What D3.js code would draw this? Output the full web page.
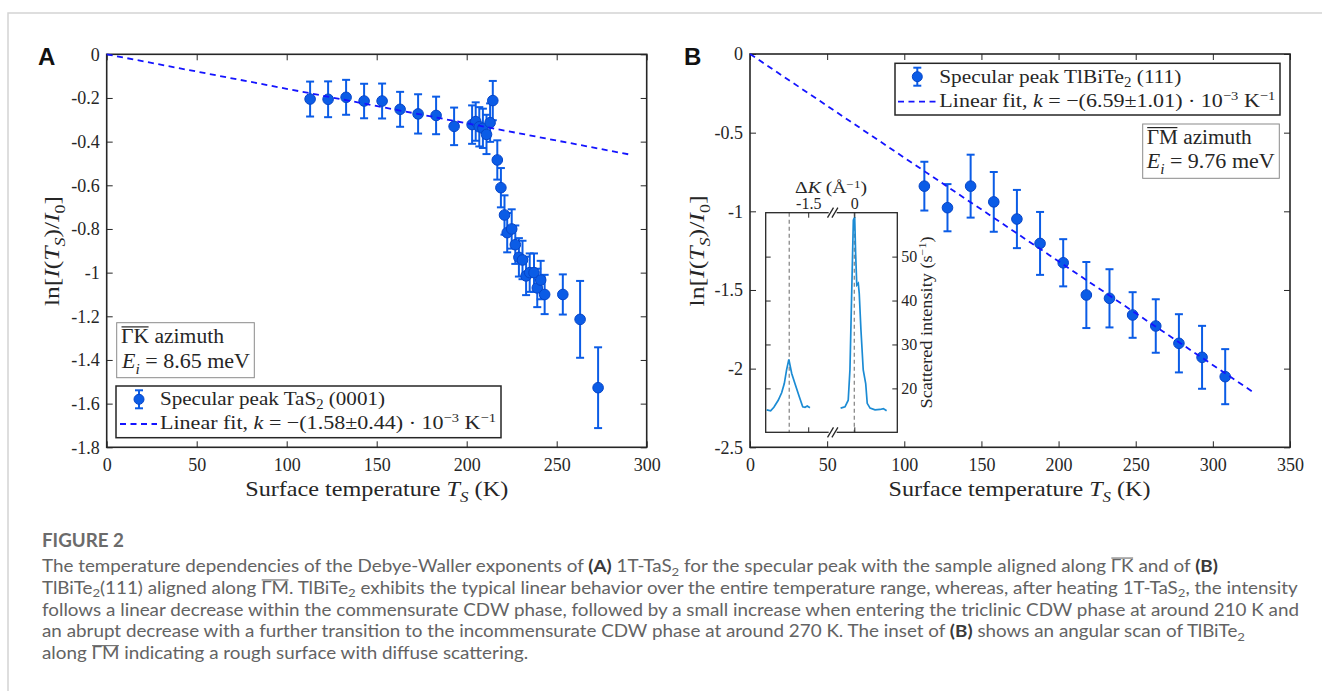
<!DOCTYPE html>
<html><head><meta charset="utf-8">
<script src="https://cdn.jsdelivr.net/npm/d3@7"></script>
<style>
body{margin:0;background:#fff;}
svg text{font-family:"Liberation Serif",serif;fill:#262626;}
</style></head><body>
<svg id="c" width="1322" height="691"></svg>
<script>
// ---------------- DATA ----------------
// Panel A: 1T-TaS2 specular peak
const tempA = [113,123,133,143,153,163,173,183,193,203,205,207,209,211,213,214.5,217,219,221,222.5,225,227,229,231,233,235,237.4,239.2,241.1,243.3,253.4,263,273];
const lnA   = [-0.205,-0.206,-0.197,-0.214,-0.214,-0.252,-0.273,-0.280,-0.330,-0.322,-0.308,-0.332,-0.339,-0.367,-0.313,-0.212,-0.484,-0.611,-0.736,-0.817,-0.800,-0.872,-0.930,-0.942,-1.015,-1.000,-1.000,-1.070,-1.034,-1.100,-1.100,-1.214,-1.527];
const errA  = [0.080,0.082,0.080,0.079,0.080,0.080,0.090,0.086,0.086,0.088,0.088,0.090,0.090,0.090,0.088,0.090,0.090,0.090,0.090,0.090,0.090,0.088,0.088,0.088,0.088,0.088,0.088,0.088,0.088,0.090,0.092,0.176,0.185];
const fitA_k = -1.58e-3;           // K^-1
const fitA_T = [0, 290];

// Panel B: TlBiTe2 specular peak
const tempB = [113,128,143,158,173,188,203,218,233,248,263,278,293,308];
const lnB   = [-0.840,-0.977,-0.840,-0.940,-1.049,-1.204,-1.327,-1.532,-1.553,-1.659,-1.729,-1.839,-1.928,-2.051];
const errB  = [0.155,0.150,0.200,0.190,0.185,0.200,0.150,0.210,0.185,0.145,0.170,0.185,0.200,0.175];
const fitB_k = -6.59e-3;
const fitB_T = [0, 327];

// Inset (angular scan)
const insetLeftK  = [-1.719,-1.698,-1.681,-1.658,-1.640,-1.626,-1.614,-1.602,-1.587,-1.570,-1.547,-1.529,-1.517,-1.505,-1.491];
const insetLeftI  = [15.1,14.9,15.7,17.3,19.0,21.1,24.2,26.6,23.4,21.1,18.1,15.8,15.7,16.0,15.6];
const insetRightK = [-0.072,-0.049,-0.032,-0.023,-0.017,-0.011,-0.005,0.002,0.007,0.013,0.021,0.026,0.035,0.047,0.060,0.068,0.083,0.109,0.135,0.153,0.170];
const insetRightI = [15.5,15.8,17.3,24.2,35.5,46.9,58.3,59.0,50.7,43.5,43.9,41.6,33.3,24.2,21.1,16.6,15.5,15.1,15.2,15.4,14.9];
const insetPeaks  = [-1.6, 0];

// Ticks
const xTicksA = [0,50,100,150,200,250,300];
const yTicksA = [0,-0.2,-0.4,-0.6,-0.8,-1,-1.2,-1.4,-1.6,-1.8];
const xTicksB = [0,50,100,150,200,250,300,350];
const yTicksB = [0,-0.5,-1,-1.5,-2,-2.5];
const insetKTicksLeft = [-1.5], insetKTicksRight = [0];
const insetITicks = [20,30,40,50];

// ---------------- DRAW ----------------
const svg = d3.select('#c');
const INK = '#262626', BLUE = '#0b5ce6', FITC = '#1414ff';

// outer card border
svg.append('path').attr('d','M8,691V13H1322').attr('fill','none').attr('stroke','#d4d4d4').attr('stroke-width',1.5);

function rich(g, x, y, segs, size, opts={}) {
  const t = g.append('text').attr('x',x).attr('y',y).style('font-size',size+'px');
  if (opts.anchor) t.attr('text-anchor',opts.anchor);
  if (opts.family) t.style('font-family',opts.family);
  if (opts.fill) t.style('fill',opts.fill);
  let shift = 0, idx = 0; const ovs = [];
  segs.forEach(s => {
    const target = s.sub ? size*(opts.subShift||0.26) : s.sup ? -size*0.36 : 0;
    const ts = t.append('tspan').text(s.t).attr('dy', target-shift);
    shift = target;
    if (s.sub) ts.style('font-size',(size*0.7)+'px');
    if (s.sup) ts.style('font-size',(size*0.66)+'px');
    if (s.it) ts.style('font-style','italic');
    if (s.b) ts.style('font-weight','700').style('fill',opts.boldFill||null);
    if (s.ov) ovs.push([idx, idx+s.t.length-1]);
    idx += s.t.length;
  });
  if (opts.len) t.attr('textLength',opts.len).attr('lengthAdjust','spacingAndGlyphs');
  if (opts.rot) t.attr('transform',`rotate(${opts.rot},${x},${y})`);
  ovs.forEach(([a,b]) => {
    const n = t.node();
    const p0 = n.getStartPositionOfChar(a), p1 = n.getEndPositionOfChar(b);
    g.append('line').attr('x1',p0.x+0.5).attr('x2',p1.x-0.5)
      .attr('y1',y-size*(opts.ovH||0.8)).attr('y2',y-size*(opts.ovH||0.8))
      .attr('stroke',opts.fill||INK).attr('stroke-width',size*0.06);
  });
  return t;
}

function axesFrame(g, x, y, xt, yt) {
  const [xl,xr] = x.range(), [yb,yt0] = y.range();
  const style = sel => { sel.select('.domain').remove();
    sel.attr('font-size',null).attr('font-family',null);
    sel.selectAll('line').attr('stroke',INK).attr('stroke-width',1);
    sel.selectAll('text').style('font-size','18px').style('font-family','"Liberation Serif",serif').attr('fill',INK); };
  g.append('g').attr('transform',`translate(0,${yb})`)
    .call(d3.axisBottom(x).tickValues(xt).tickSize(-6).tickPadding(11).tickFormat(d=>String(d))).call(style);
  g.append('g').attr('transform',`translate(0,${yt0})`)
    .call(d3.axisTop(x).tickValues(xt).tickSize(-6).tickFormat('')).call(style);
  g.append('g').attr('transform',`translate(${xl},0)`)
    .call(d3.axisLeft(y).tickValues(yt).tickSize(-6).tickPadding(7).tickFormat(d=>String(d))).call(style);
  g.append('g').attr('transform',`translate(${xr},0)`)
    .call(d3.axisRight(y).tickValues(yt).tickSize(-6).tickFormat('')).call(style);
  g.append('rect').attr('x',xl).attr('y',yt0).attr('width',xr-xl).attr('height',yb-yt0)
    .attr('fill','none').attr('stroke',INK).attr('stroke-width',1.6);
}

function errPoints(g, x, y, T, V, E) {
  const pts = g.append('g');
  T.forEach((t,i) => {
    const cx = x(t), yt = y(V[i]+E[i]), yb = y(V[i]-E[i]);
    pts.append('line').attr('x1',cx).attr('x2',cx).attr('y1',yt).attr('y2',yb).attr('stroke',BLUE).attr('stroke-width',2);
    [yt,yb].forEach(yy => pts.append('line').attr('x1',cx-4).attr('x2',cx+4).attr('y1',yy).attr('y2',yy).attr('stroke',BLUE).attr('stroke-width',2));
  });
  T.forEach((t,i) => pts.append('circle').attr('cx',x(t)).attr('cy',y(V[i])).attr('r',5.3)
      .attr('fill',BLUE).attr('stroke','#0645c8').attr('stroke-width',1));
}

function fitLine(g, x, y, Ts, k) {
  g.append('path').datum(Ts).attr('d', d3.line().x(d=>x(d)).y(d=>y(k*d)))
    .attr('fill','none').attr('stroke',FITC).attr('stroke-width',1.8).attr('stroke-dasharray','6,4.5');
}

function legendMarker(g, cx, cy) {
  g.append('line').attr('x1',cx).attr('x2',cx).attr('y1',cy-9).attr('y2',cy+9).attr('stroke',BLUE).attr('stroke-width',2);
  [cy-9,cy+9].forEach(yy=>g.append('line').attr('x1',cx-4).attr('x2',cx+4).attr('y1',yy).attr('y2',yy).attr('stroke',BLUE).attr('stroke-width',2));
  g.append('circle').attr('cx',cx).attr('cy',cy).attr('r',5).attr('fill',BLUE).attr('stroke','#0645c8');
}

// ---------- Panel A ----------
const gA = svg.append('g');
const xA = d3.scaleLinear().domain([0,300]).range([106.7,646.7]);
const yA = d3.scaleLinear().domain([-1.8,0]).range([447.3,54.3]);
axesFrame(gA, xA, yA, xTicksA, yTicksA);
errPoints(gA, xA, yA, tempA, lnA, errA);
fitLine(gA, xA, yA, fitA_T, fitA_k);
rich(gA, 376.7, 496, [{t:'Surface temperature '},{t:'T',it:true},{t:'S',it:true,sub:true},{t:' (K)'}], 22, {anchor:'middle', len:263});
rich(gA, 59, 251, [{t:'ln['},{t:'I',it:true},{t:'('},{t:'T',it:true},{t:'S',it:true,sub:true},{t:')/'},{t:'I',it:true},{t:'0',sub:true},{t:']'}], 22, {anchor:'middle', len:110, rot:-90});
// azimuth box
gA.append('rect').attr('x',116.7).attr('y',322.7).attr('width',137.6).attr('height',55).attr('fill','#fff').attr('stroke','#8a8a8a').attr('stroke-width',1);
rich(gA, 121, 343.3, [{t:'ΓK',ov:true},{t:' azimuth'}], 20, {len:103, ovH:0.82});
rich(gA, 122, 368.3, [{t:'E',it:true},{t:'i',it:true,sub:true},{t:' = 8.65 meV'}], 20, {len:128});
// legend
gA.append('rect').attr('x',116).attr('y',386).attr('width',385).attr('height',51.7).attr('fill','#fff').attr('stroke',INK).attr('stroke-width',1.5);
legendMarker(gA, 139, 399.3);
rich(gA, 160, 405, [{t:'Specular peak TaS'},{t:'2',sub:true},{t:' (0001)'}], 19.5, {len:225, subShift:0.2});
gA.append('line').attr('x1',120).attr('x2',157).attr('y1',424).attr('y2',424).attr('stroke',FITC).attr('stroke-width',1.8).attr('stroke-dasharray','6,4.5');
rich(gA, 160, 429, [{t:'Linear fit, '},{t:'k',it:true},{t:' = −(1.58±0.44) · 10'},{t:'−3',sup:true},{t:' K'},{t:'−1',sup:true}], 19.5, {len:336});
svg.append('text').attr('x',38).attr('y',65).text('A').style('font-family','"Liberation Sans",Arial,sans-serif').style('font-weight','700').style('font-size','24px').style('fill','#111');

// ---------- Panel B ----------
const gB = svg.append('g');
const xB = d3.scaleLinear().domain([0,350]).range([750,1290]);
const yB = d3.scaleLinear().domain([-2.5,0]).range([447.3,54]);
axesFrame(gB, xB, yB, xTicksB, yTicksB);
errPoints(gB, xB, yB, tempB, lnB, errB);
fitLine(gB, xB, yB, fitB_T, fitB_k);
rich(gB, 1019.5, 496, [{t:'Surface temperature '},{t:'T',it:true},{t:'S',it:true,sub:true},{t:' (K)'}], 22, {anchor:'middle', len:262});
rich(gB, 704, 251, [{t:'ln['},{t:'I',it:true},{t:'('},{t:'T',it:true},{t:'S',it:true,sub:true},{t:')/'},{t:'I',it:true},{t:'0',sub:true},{t:']'}], 22, {anchor:'middle', len:111, rot:-90});
gB.append('rect').attr('x',895).attr('y',63.3).attr('width',385).attr('height',51.7).attr('fill','#fff').attr('stroke',INK).attr('stroke-width',1.5);
legendMarker(gB, 917.3, 76.7);
rich(gB, 939.3, 82.7, [{t:'Specular peak TlBiTe'},{t:'2',sub:true},{t:' (111)'}], 19.5, {len:242, subShift:0.2});
gB.append('line').attr('x1',898).attr('x2',936.7).attr('y1',101.7).attr('y2',101.7).attr('stroke',FITC).attr('stroke-width',1.8).attr('stroke-dasharray','6,4.5');
rich(gB, 939.3, 107, [{t:'Linear fit, '},{t:'k',it:true},{t:' = −(6.59±1.01) · 10'},{t:'−3',sup:true},{t:' K'},{t:'−1',sup:true}], 19.5, {len:336});
gB.append('rect').attr('x',1142.7).attr('y',124).attr('width',136.6).attr('height',54.3).attr('fill','#fff').attr('stroke','#8a8a8a').attr('stroke-width',1);
rich(gB, 1146.7, 144, [{t:'ΓM',ov:true},{t:' azimuth'}], 20, {len:105, ovH:0.82});
rich(gB, 1146.7, 168.3, [{t:'E',it:true},{t:'i',it:true,sub:true},{t:' = 9.76 meV'}], 20, {len:128});
svg.append('text').attr('x',684).attr('y',65).text('B').style('font-family','"Liberation Sans",Arial,sans-serif').style('font-weight','700').style('font-size','24px').style('fill','#111');

// ---------- Inset ----------
const gI = svg.append('g');
const iL = 765.7, iR = 897.3, iT = 212.7, iBt = 432.3, iBreak = 832.7;
const xIL = d3.scaleLinear().domain([-1.724,-1.371]).range([iL,iBreak]);
const xIR = d3.scaleLinear().domain([-0.1137,0.2263]).range([iBreak,iR]);
const yI = d3.scaleLinear().domain([10,60]).range([iBt,iT]);
gI.append('rect').attr('x',iL).attr('y',iT).attr('width',iR-iL).attr('height',iBt-iT).attr('fill','#fff');
[[xIL,insetPeaks[0]],[xIR,insetPeaks[1]]].forEach(([sc,v]) =>
  gI.append('line').attr('x1',sc(v)).attr('x2',sc(v)).attr('y1',iT).attr('y2',iBt).attr('stroke','#8a8a8a').attr('stroke-width',1.3).attr('stroke-dasharray','4,3'));
const lineL = d3.line().x((d,i)=>xIL(insetLeftK[i])).y(d=>yI(d));
const lineR = d3.line().x((d,i)=>xIR(insetRightK[i])).y(d=>yI(d));
gI.append('path').datum(insetLeftI).attr('d',lineL).attr('fill','none').attr('stroke','#1b8bd4').attr('stroke-width',1.7);
gI.append('path').datum(insetRightI).attr('d',lineR).attr('fill','none').attr('stroke','#1b8bd4').attr('stroke-width',1.7);
const st = sel => { sel.select('.domain').remove(); sel.attr('font-size',null).attr('font-family',null);
  sel.selectAll('line').attr('stroke',INK); sel.selectAll('text').style('font-size','16px').style('font-family','"Liberation Serif",serif').attr('fill',INK); };
gI.append('g').attr('transform',`translate(${iR},0)`).call(d3.axisRight(yI).tickValues(insetITicks).tickSize(-5).tickPadding(4)).call(st);
gI.append('g').attr('transform',`translate(${iL},0)`).call(d3.axisLeft(yI).tickValues(insetITicks).tickSize(-5).tickFormat('')).call(st);
gI.append('g').attr('transform',`translate(0,${iT})`).call(d3.axisTop(xIL).tickValues(insetKTicksLeft).tickSize(-5).tickPadding(4).tickFormat(d=>String(d))).call(st);
gI.append('g').attr('transform',`translate(0,${iT})`).call(d3.axisTop(xIR).tickValues(insetKTicksRight).tickSize(-5).tickPadding(4).tickFormat(d=>String(d))).call(st);
gI.append('g').attr('transform',`translate(0,${iBt})`).call(d3.axisBottom(xIL).tickValues(insetKTicksLeft).tickSize(-5).tickFormat('')).call(st);
gI.append('g').attr('transform',`translate(0,${iBt})`).call(d3.axisBottom(xIR).tickValues(insetKTicksRight).tickSize(-5).tickFormat('')).call(st);
gI.append('rect').attr('x',iL).attr('y',iT).attr('width',iR-iL).attr('height',iBt-iT).attr('fill','none').attr('stroke',INK).attr('stroke-width',1.3);
[iT,iBt].forEach(yy => {
  gI.append('rect').attr('x',iBreak-4).attr('y',yy-2).attr('width',8).attr('height',4).attr('fill','#fff');
  [-2.2,2.2].forEach(o => gI.append('line').attr('x1',iBreak+o-3).attr('x2',iBreak+o+3).attr('y1',yy+5).attr('y2',yy-5).attr('stroke',INK).attr('stroke-width',1.3));
});
rich(gI, 831, 193.3, [{t:'Δ'},{t:'K',it:true},{t:' (Å'},{t:'−1',sup:true},{t:')'}], 16, {anchor:'middle', len:72});
rich(gI, 931.5, 322.5, [{t:'Scattered intensity (s'},{t:'−1',sup:true},{t:')'}], 16, {anchor:'middle', len:172, rot:-90});

// ---------- Caption ----------
const gC = svg.append('g');
const CAP = 17.5;
const capOpts = {family:'Lato,"Open Sans",sans-serif', fill:'#636363', boldFill:'#3a3a3a', subShift:0.22, ovH:0.78};
gC.append('text').attr('x',42).attr('y',546.7).text('FIGURE 2').style('font-family','Lato,sans-serif').style('font-weight','700').style('font-size','19px').style('fill','#6b6b6b').attr('textLength',82).attr('lengthAdjust','spacingAndGlyphs');
const capLines = [
  {y:571.7, segs:[{t:'The temperature dependencies of the Debye-Waller exponents of '},{t:'(A)',b:true},{t:' 1T-TaS'},{t:'2',sub:true},{t:' for the specular peak with the sample aligned along '},{t:'ΓK',ov:true},{t:' and of '},{t:'(B)',b:true}]},
  {y:593.6, segs:[{t:'TlBiTe'},{t:'2',sub:true},{t:'(111) aligned along '},{t:'ΓM',ov:true},{t:'. TlBiTe'},{t:'2',sub:true},{t:' exhibits the typical linear behavior over the entire temperature range, whereas, after heating 1T-TaS'},{t:'2',sub:true},{t:', the intensity'}]},
  {y:615.5, segs:[{t:'follows a linear decrease within the commensurate CDW phase, followed by a small increase when entering the triclinic CDW phase at around 210 K and'}]},
  {y:637.4, segs:[{t:'an abrupt decrease with a further transition to the incommensurate CDW phase at around 270 K. The inset of '},{t:'(B)',b:true},{t:' shows an angular scan of TlBiTe'},{t:'2',sub:true}]},
  {y:659.3, segs:[{t:'along '},{t:'ΓM',ov:true},{t:' indicating a rough surface with diffuse scattering.'}]}
];
// measure natural widths, then stretch every line by the same factor so line 3 spans the column
const nat = capLines.map(l => { const p = rich(gC, 0, -100, l.segs, CAP, capOpts); const w = p.node().getComputedTextLength(); p.remove(); return w; });
const stretch = 1257 / nat[2];
capLines.forEach((l,i) => rich(gC, 42, l.y, l.segs, CAP, Object.assign({len: nat[i]*stretch}, capOpts)));
</script></body></html>
